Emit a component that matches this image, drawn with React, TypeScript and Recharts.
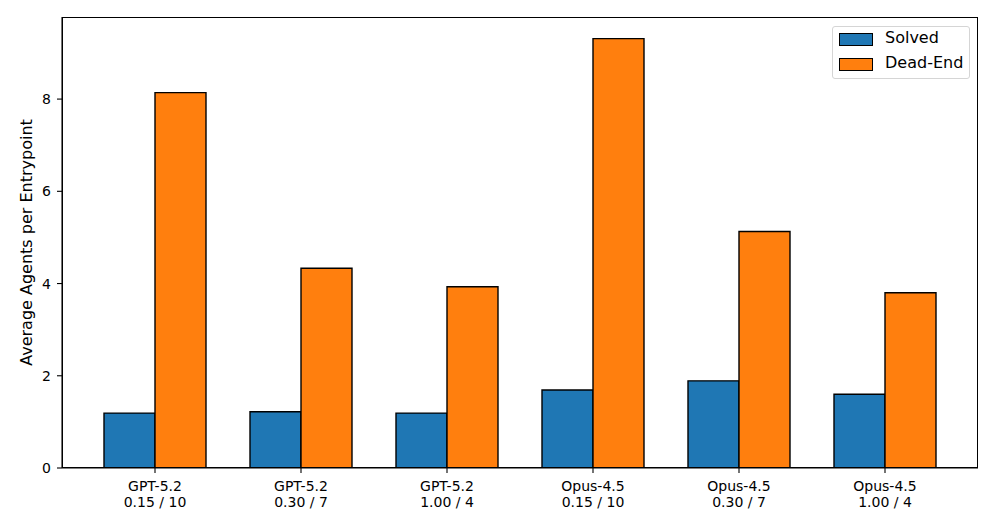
import { BarChart, Bar, XAxis, YAxis } from "recharts";

const models = ["GPT-5.2", "GPT-5.2", "GPT-5.2", "Opus-4.5", "Opus-4.5", "Opus-4.5"];
const configs = ["0.15 / 10", "0.30 / 7", "1.00 / 4", "0.15 / 10", "0.30 / 7", "1.00 / 4"];
const solved = [1.19, 1.22, 1.19, 1.69, 1.89, 1.6];
const deadEnd = [8.14, 4.33, 3.93, 9.31, 5.13, 3.8];
const yTicks = [0, 2, 4, 6, 8];

const FONT = "'DejaVu Sans', sans-serif";
const BLUE = "#1f77b4";
const ORANGE = "#ff7f0e";

const data = models.map((m, i) => ({
  key: `${m}|${configs[i]}`,
  solved: solved[i],
  deadEnd: deadEnd[i],
}));

function TwoLineTick(props: { x?: number; y?: number; payload?: { value: string } }) {
  const { x = 0, y = 0, payload } = props;
  const [model, config] = (payload?.value ?? "").split("|");
  return (
    <text textAnchor="middle" fill="#000" fontSize={14} fontFamily={FONT}>
      <tspan x={x} y={y + 16}>{model}</tspan>
      <tspan x={x} y={y + 32}>{config}</tspan>
    </text>
  );
}

function LegendItem({ top, color, label }: { top: number; color: string; label: string }) {
  return (
    <>
      <div
        style={{
          position: "absolute",
          left: 6,
          top,
          width: 32,
          height: 11,
          background: color,
          border: "1px solid #000",
        }}
      />
      <div
        style={{
          position: "absolute",
          left: 52,
          top: top - 6,
          fontSize: 16,
          lineHeight: "22px",
          color: "#000",
          whiteSpace: "nowrap",
        }}
      >
        {label}
      </div>
    </>
  );
}

export default function App() {
  return (
    <div
      style={{
        position: "absolute",
        left: 0,
        top: 0,
        width: 996,
        height: 528,
        background: "#fff",
        fontFamily: FONT,
      }}
    >
      <BarChart
        width={996}
        height={528}
        data={data}
        margin={{ top: 17, right: 18, bottom: 0, left: 0 }}
        barGap={0}
      >
        <XAxis
          dataKey="key"
          height={60}
          padding={{ left: 20, right: 20 }}
          axisLine={{ stroke: "#000", strokeWidth: 1.1 }}
          tickLine={{ stroke: "#000", strokeWidth: 1.1 }}
          tickSize={5}
          tickMargin={2}
          tick={<TwoLineTick />}
          interval={0}
        />
        <YAxis
          width={62}
          domain={[0, 9.78]}
          ticks={yTicks}
          allowDataOverflow
          axisLine={{ stroke: "#000", strokeWidth: 1.1 }}
          tickLine={{ stroke: "#000", strokeWidth: 1.1 }}
          tickSize={5}
          tickMargin={6}
          tick={{ fill: "#000", fontSize: 14, fontFamily: FONT }}
          label={(props: { viewBox?: { x: number; y: number; height: number } }) => {
            const vb = props.viewBox ?? { x: 0, y: 17, height: 451 };
            const cy = vb.y + vb.height / 2;
            return (
              <text
                x={26}
                y={cy}
                transform={`rotate(-90, 26, ${cy})`}
                textAnchor="middle"
                dominantBaseline="central"
                fontSize={16}
                fontFamily={FONT}
                fill="#000"
              >
                Average Agents per Entrypoint
              </text>
            );
          }}
        />
        <Bar
          dataKey="solved"
          fill={BLUE}
          stroke="#000"
          strokeWidth={1.4}
          barSize={51}
          isAnimationActive={false}
        />
        <Bar
          dataKey="deadEnd"
          fill={ORANGE}
          stroke="#000"
          strokeWidth={1.4}
          barSize={51}
          isAnimationActive={false}
        />
      </BarChart>
      {/* axes frame (top and right spines) */}
      <div
        style={{
          position: "absolute",
          left: 62,
          top: 17,
          width: 916,
          height: 451,
          boxSizing: "border-box",
          border: "1px solid #000",
          pointerEvents: "none",
        }}
      />
      <div
        style={{
          position: "absolute",
          left: 832,
          top: 26,
          width: 138,
          height: 53,
          boxSizing: "border-box",
          border: "1px solid #d5d5d5",
          borderRadius: 3,
          background: "rgba(255,255,255,0.8)",
        }}
      >
        <LegendItem top={6} color={BLUE} label="Solved" />
        <LegendItem top={31} color={ORANGE} label="Dead-End" />
      </div>
    </div>
  );
}
